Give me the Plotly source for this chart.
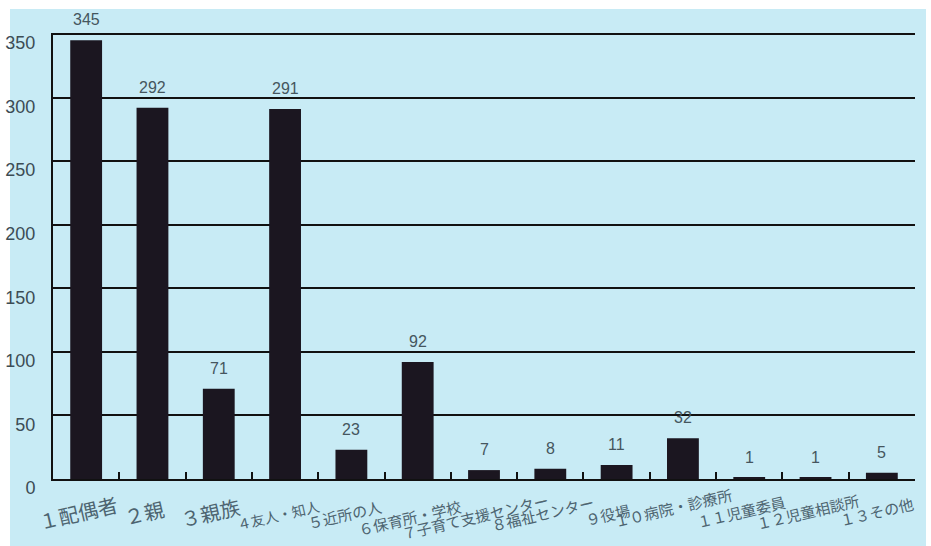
import plotly.graph_objects as go

categories = ["１配偶者", "２親", "３親族", "４友人・知人", "５近所の人", "６保育所・学校",
              "７子育て支援センター", "８福祉センター", "９役場", "１０病院・診療所",
              "１１児童委員", "１２児童相談所", "１３その他"]
values = [345, 292, 71, 291, 23, 92, 7, 8, 11, 32, 1, 1, 5]
y_ticks = [0, 50, 100, 150, 200, 250, 300, 350]

# label styling (not data)
label_sizes = [20, 20, 20, 14, 15, 15, 15, 15, 15, 15, 15, 15, 15]
label_dy = [-33, -33, -33, -36, -35, -38, -37, -34, -35, -28, -32, -32, -32]
label_dx = [-8, -8, -9, -7, -7, -8, -9, -8, -9, -10, -8, -8, -5]

BG = "#c8ebf5"
BAR = "#1b1620"
TXT = "#45565e"

fig = go.Figure()
fig.add_trace(go.Bar(x=categories, y=values, marker=dict(color=BAR, line=dict(width=0)),
                     width=0.48, showlegend=False, hoverinfo="skip"))

ann = []
for c, v in zip(categories, values):
    ann.append(dict(x=c, y=v, xref="x", yref="y", text=str(v), showarrow=False,
                    yanchor="bottom", yshift=10,
                    font=dict(family="Liberation Sans Narrow, Arial Narrow, sans-serif", size=16, color=TXT)))
for c, s, dy, dx in zip(categories, label_sizes, label_dy, label_dx):
    ann.append(dict(x=c, y=0, xref="x", yref="y", text=c, showarrow=False,
                    textangle=-13, yshift=dy, xshift=dx,
                    font=dict(family="Noto Sans CJK JP", size=s, color="#4d6470")))

fig.update_layout(
    width=931, height=546,
    margin=dict(l=53, r=16, t=33, b=67, autoexpand=False),
    paper_bgcolor="white", plot_bgcolor=BG,
    annotations=ann,
    shapes=[dict(type="rect", xref="paper", yref="paper", layer="below",
                 x0=(10 - 53) / 862, x1=(926 - 53) / 862,
                 y0=-0.2, y1=(479 - 9) / 446,
                 fillcolor=BG, line=dict(width=0))],
    xaxis=dict(showgrid=False, showline=True, linecolor="#111", linewidth=2, automargin=False,
               ticks="inside", ticklen=7, tickwidth=2, tickcolor="#111",
               tickson="boundaries", showticklabels=False, range=[-0.5, 12.5]),
    yaxis=dict(range=[0, 350.8], tickvals=y_ticks, showgrid=True, gridcolor="#111", gridwidth=2,
               showline=True, linecolor="#111", linewidth=2, zeroline=False, automargin=False,
               ticks="", ticklabelstandoff=12, ticklabelshift=9,
               tickfont=dict(family="Liberation Sans Narrow, Arial Narrow, sans-serif", size=18, color="#3c4c54")),
)
fig.write_html("out.html")
